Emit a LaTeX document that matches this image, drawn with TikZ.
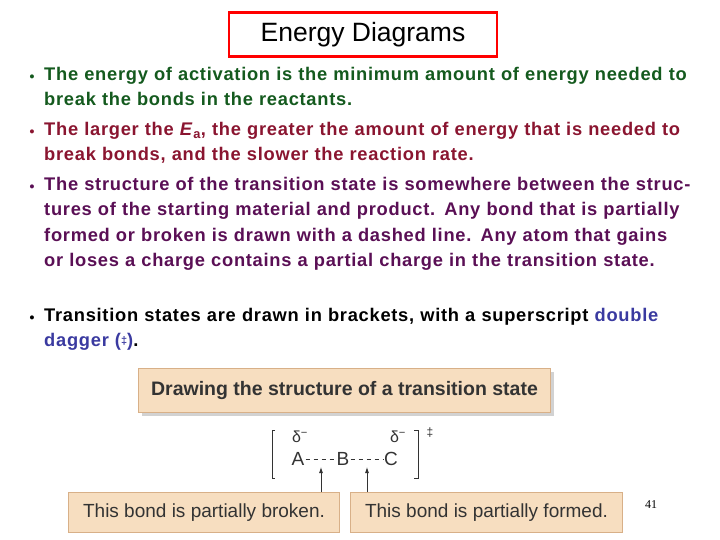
\documentclass[tikz,border=0pt]{standalone}
\usepackage{fontspec}
\setmainfont{Liberation Serif}
\newfontfamily\arial{Liberation Sans}
\newfontfamily\arialsp[LetterSpace=4]{Liberation Sans}
\usetikzlibrary{arrows.meta,shadows}
\definecolor{cgreen}{HTML}{145A1E}
\definecolor{cred}{HTML}{8A1530}
\definecolor{cpurple}{HTML}{5A0F55}
\definecolor{cblue}{HTML}{3A3AA0}
\definecolor{tan}{HTML}{F7DEC0}
\definecolor{tanedge}{HTML}{D8B088}
\definecolor{txtgray}{HTML}{333333}
\tikzset{
  bullet/.style={anchor=north west,text width=644pt,inner sep=0pt,font=\arialsp\bfseries\fontsize{18.3}{25.4}\selectfont},
  dot/.style={inner sep=0pt,font=\arial\bfseries\fontsize{14}{14}\selectfont},
  tanbox/.style={draw=tanedge,fill=tan,line width=1pt,inner sep=0pt,anchor=north west},
  chem/.style={inner sep=0pt,font=\arial\fontsize{19}{19}\selectfont,text=txtgray},
  arr/.style={-{Latex[length=6pt,width=4pt]},draw=txtgray,line width=0.8pt}
}
\begin{document}
\begin{tikzpicture}[x=1pt,y=-1pt]
\useasboundingbox (0,0) rectangle (720,540);
\node[draw=red,line width=2.5pt,minimum width=268pt,minimum height=44pt,inner sep=0pt,font=\arial\fontsize{26.5}{26.5}\selectfont] (title) at (363,34.5) {Energy Diagrams};
\node[dot,text=cgreen] (d1) at (32,78) {•};
\node[bullet,text=cgreen] (b1) at (44,67) {The energy of activation is the minimum amount of energy needed to break the bonds in the reactants.};
\node[dot,text=cred] (d2) at (32,133) {•};
\node[bullet,text=cred] (b2) at (44,122) {The larger the \textit{E}\textsubscript{a}, the greater the amount of energy that is needed to break bonds, and the slower the reaction rate.};
\node[dot,text=cpurple] (d3) at (32,188) {•};
\node[bullet,text=cpurple] (b3) at (44,177) {The structure of the transition state is somewhere between the structures of the starting material and product. Any bond that is partially formed or broken is drawn with a dashed line. Any atom that gains or loses a charge contains a partial charge in the transition state.};
\node[dot] (d4) at (32,319) {•};
\node[bullet] (b4) at (44,308) {Transition states are drawn in brackets, with a superscript \textcolor{cblue}{double dagger (\raisebox{0.25ex}{\fontsize{11}{11}\selectfont ‡})}.};
% figure
\node[tanbox,minimum width=412pt,minimum height=44pt,drop shadow={shadow xshift=3pt,shadow yshift=-3pt,fill=black!35}] (head) at (138,368) {};
\node[font=\arial\bfseries\fontsize{19.5}{19.5}\selectfont,text=txtgray] (headt) at (head.center) {Drawing the structure of a transition state};
\draw[txtgray,line width=0.8pt] (275,430) -- (272,430) -- (272,478) -- (275,478);
\draw[txtgray,line width=0.8pt] (414,430) -- (418,430) -- (418,478) -- (414,478);
\node[chem,font=\arial\fontsize{12}{12}\selectfont] (dag) at (430,433) {‡};
\node[chem,font=\arial\fontsize{16}{16}\selectfont] (dA) at (300,437) {δ\textsuperscript{−}};
\node[chem,font=\arial\fontsize{16}{16}\selectfont] (dC) at (398,437) {δ\textsuperscript{−}};
\node[chem] (A) at (298,459) {A};
\node[chem] (B) at (343,459) {B};
\node[chem] (C) at (391,459) {C};
\draw[txtgray,line width=0.8pt,dash pattern=on 4pt off 4pt] ([xshift=1pt]A.east) -- ([xshift=-1pt]B.west);
\draw[txtgray,line width=0.8pt,dash pattern=on 4pt off 4pt] ([xshift=1pt]B.east) -- ([xshift=-1pt]C.west);
\node[tanbox,minimum width=271pt,minimum height=40pt] (lb) at (68,492) {};
\node[chem] (lbt) at (lb.center) {This bond is partially broken.};
\node[tanbox,minimum width=272pt,minimum height=40pt] (rb) at (350,492) {};
\node[chem] (rbt) at (rb.center) {This bond is partially formed.};
\coordinate (ta) at (321,467);
\coordinate (tb) at (367,467);
\draw[arr] (lb.north east -| ta) -- (ta);
\draw[arr] (rb.north west -| tb) -- (tb);
\node[font=\fontsize{12}{12}\selectfont] (pg) at (651,505) {41};
\end{tikzpicture}
\end{document}
